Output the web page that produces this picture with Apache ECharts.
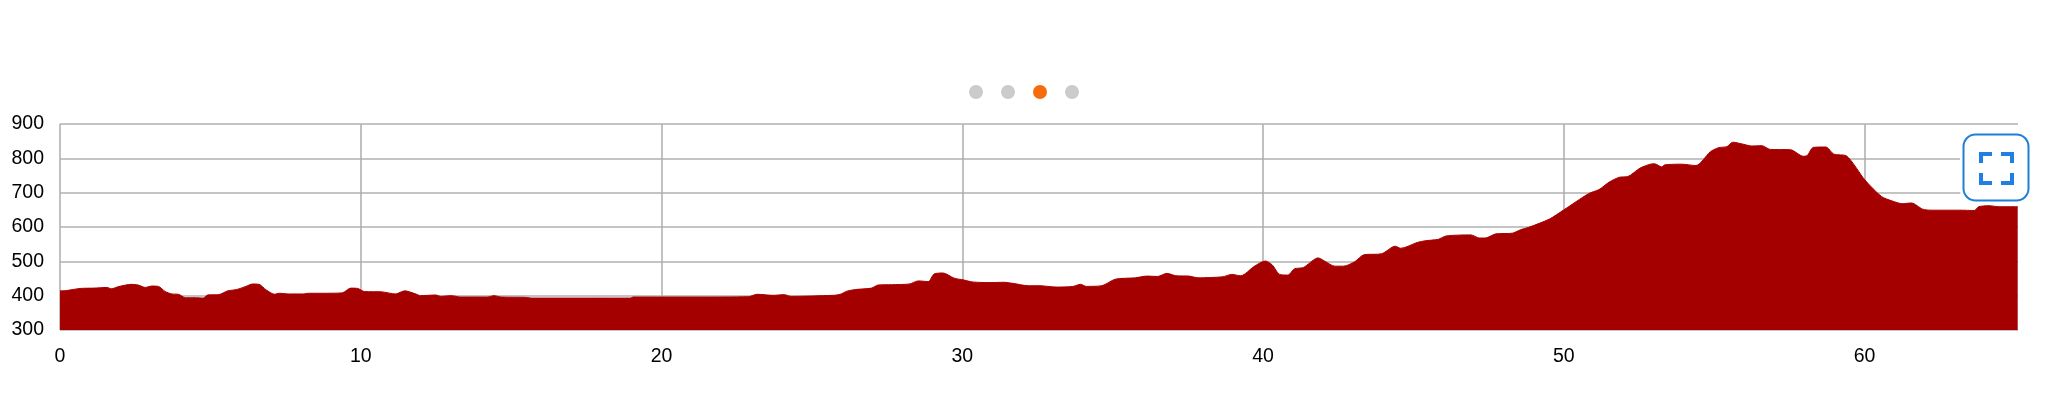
<!DOCTYPE html>
<html><head><meta charset="utf-8">
<style>html,body{margin:0;padding:0;background:#fff}#c{width:2048px;height:402px}</style>
<script src="https://cdn.jsdelivr.net/npm/echarts@6/dist/echarts.min.js"></script>
</head><body><div id="c"></div>
<script>
const km=[0,.22,.67,1.12,1.56,1.71,1.93,2.38,2.6,2.83,3.05,3.27,3.5,3.72,3.94,4.17,4.54,4.76,4.91,5.28,5.58,5.88,6.18,6.4,6.62,6.85,7.14,7.29,7.59,8.11,8.26,8.63,9.38,9.67,9.9,10.12,10.71,11.16,11.46,11.83,11.98,12.5,12.65,13.02,13.32,14.21,14.43,14.66,15.48,15.7,18.97,19.05,21.25,22.89,23.18,23.71,24.08,24.3,25.71,25.94,26.16,26.46,26.98,27.2,27.65,28.24,28.54,28.87,29.06,29.36,29.73,30.03,30.33,30.92,31.37,31.67,32.19,32.56,33.15,33.68,33.93,34.12,34.64,35.09,35.76,36.13,36.5,36.8,37.1,37.54,37.84,38.66,38.96,39.26,39.7,40.07,40.3,40.55,40.82,41.04,41.34,41.83,42.08,42.38,42.68,43.05,43.35,43.94,44.39,44.58,45.13,45.4,45.82,46.09,46.91,47.19,47.39,47.74,48.29,48.56,48.83,49.52,50,50.82,51.17,51.51,51.85,52.13,52.54,52.88,53.02,53.25,53.36,53.91,54.39,54.87,55.14,55.42,55.62,55.97,56.24,56.58,56.86,57.54,57.96,58.09,58.3,58.71,58.98,59.4,60.01,60.56,60.91,61.25,61.56,61.93,62.21,63.17,63.65,63.79,64.13,64.47,65.09];
const elevation=[414,415,421,422,424,420,426,433,431,424,428,427,412,405,404,394,394,393,402,403,414,418,427,434,433,417,404,407,405,405,407,407,408,422,421,412,411,405,414,405,400,402,398,400,396,396,400,396,395,393,393,396,396,397,404,401,403,398,401,404,413,418,422,431,432,434,443,441,463,466,451,446,440,438,439,436,429,429,425,427,433,427,429,448,452,457,456,465,458,457,452,455,462,458,485,501,490,462,460,478,482,510,499,486,486,499,519,522,544,538,555,560,564,574,577,568,568,580,582,592,599,623,650,697,709,731,745,747,772,783,784,775,781,783,779,819,831,834,847,841,836,837,826,825,806,808,832,833,812,807,737,689,676,668,670,652,649,649,648,659,662,659,659];
const pageDots=[0,1,2,3];
const activeDot=2;

const font='"Liberation Sans", Arial, sans-serif';
const chart=echarts.init(document.getElementById('c'),null,{renderer:'canvas'});
const dots=pageDots.map(i=>({type:'circle',shape:{cx:976+i*32,cy:92,r:7},style:{fill:i===activeDot?'#f66c0a':'#cbcbcb'},z:20}));
const corner=(pts)=>({type:'polyline',shape:{points:pts},style:{stroke:'#1e80e0',lineWidth:4,fill:null},z:23});
chart.setOption({
  animation:false,
  backgroundColor:'#fff',
  grid:{left:60,right:30,top:124,bottom:72,containLabel:false},
  xAxis:{type:'value',min:0,max:65.1,interval:10,
    axisLine:{show:false},axisTick:{show:false},
    axisLabel:{color:'#000',fontFamily:font,fontSize:19.5,margin:17,showMaxLabel:false,hideOverlap:false},
    splitLine:{show:true,showMaxLine:false,lineStyle:{color:'#adadad',width:1.5}}},
  yAxis:{type:'value',min:300,max:900,interval:100,
    axisLine:{show:false},axisTick:{show:false},
    axisLabel:{color:'#000',fontFamily:font,fontSize:19.5,margin:16},
    splitLine:{show:true,lineStyle:{color:'#b0b0b0',width:1.5}}},
  series:[{type:'line',data:km.map((k,i)=>[k,elevation[i]]),showSymbol:false,smooth:0.25,
    lineStyle:{color:'#a50000',width:1},itemStyle:{color:'#a50000'},
    areaStyle:{color:'#a50000',opacity:1,origin:'start'},z:5}],
  graphic:[...dots,
    {type:'rect',shape:{x:1960,y:131,width:72,height:73,r:14},style:{fill:'#fff'},z:21},
    {type:'rect',shape:{x:1963.5,y:134.5,width:65,height:66,r:12},style:{fill:'#fff',stroke:'#1e7fd8',lineWidth:2},z:22},
    corner([[1981,163],[1981,154],[1992,154]]),
    corner([[2001,154],[2012,154],[2012,163]]),
    corner([[1981,173],[1981,183],[1992,183]]),
    corner([[2001,183],[2012,183],[2012,173]])
  ]
});
</script></body></html>
